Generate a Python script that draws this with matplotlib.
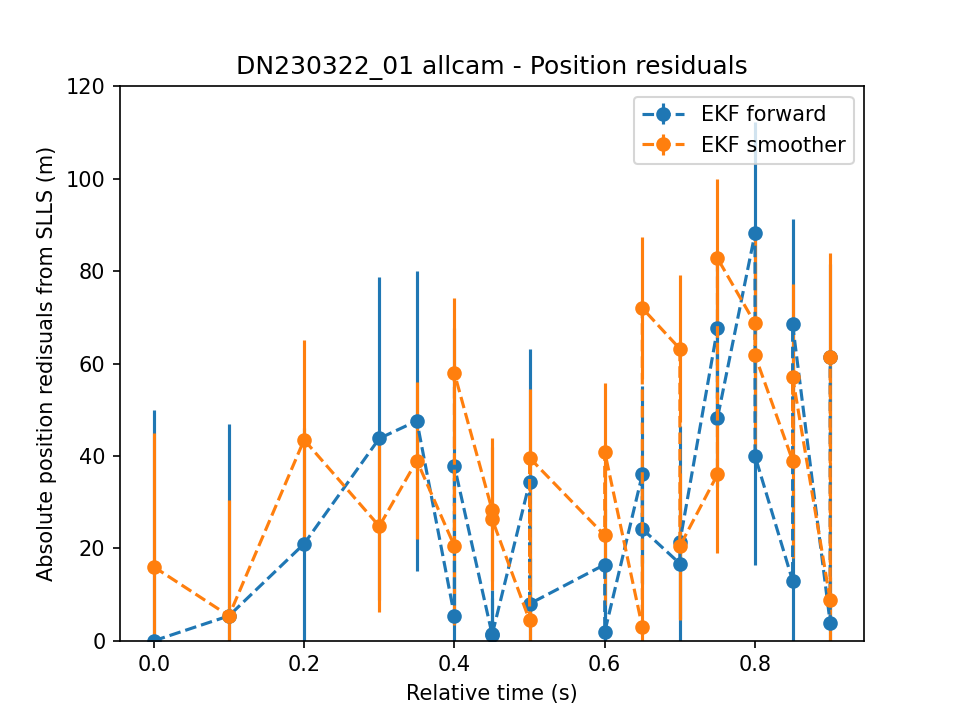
import matplotlib
matplotlib.use('Agg')
import matplotlib.pyplot as plt
import numpy as np

# relative time of each residual sample (s)
t = [0.0, 0.1, 0.2, 0.3, 0.35, 0.4, 0.4, 0.45, 0.45, 0.5, 0.5, 0.6, 0.6,
     0.65, 0.65, 0.7, 0.7, 0.75, 0.75, 0.8, 0.8, 0.85, 0.85, 0.9, 0.9]

# EKF forward residuals + 1 sigma
fwd_res = [0.0, 5.4, 21.0, 43.8, 47.6, 5.4, 37.8, 1.5, 1.2, 34.3, 8.0, 16.5, 1.9,
           36.0, 24.2, 16.7, 21.4, 67.6, 48.2, 88.2, 40.0, 13.0, 68.5, 3.9, 61.5]
fwd_err = [50.0, 41.5, 25.0, 35.0, 32.5, 12.0, 30.0, 9.6, 8.0, 28.9, 10.0, 12.0, 5.0,
           19.2, 12.0, 12.0, 25.0, 15.0, 15.0, 24.0, 23.5, 20.0, 22.9, 10.0, 20.0]

# EKF smoother residuals + 1 sigma
smo_res = [16.0, 5.4, 43.5, 24.8, 39.0, 20.5, 57.9, 28.4, 26.4, 4.4, 39.6, 22.8, 40.9,
           3.0, 72.0, 63.2, 20.5, 36.0, 82.8, 68.7, 61.8, 39.0, 57.1, 8.8, 61.5]
smo_err = [29.0, 25.0, 21.6, 18.5, 17.0, 17.0, 16.3, 15.4, 15.5, 20.0, 15.0, 15.0, 15.0,
           15.3, 15.4, 15.9, 15.9, 17.1, 17.2, 20.0, 20.0, 21.0, 20.1, 30.0, 22.5]

fig = plt.figure(figsize=(6.4, 4.8), dpi=150)
ax = fig.subplots()
ax.errorbar(t, fwd_res, yerr=fwd_err, fmt='o--', label='EKF forward')
ax.errorbar(t, smo_res, yerr=smo_err, fmt='o--', label='EKF smoother')
ax.set_ylim(0, 120)
ax.set_xlabel('Relative time (s)')
ax.set_ylabel('Absolute position redisuals from SLLS (m)')
ax.set_title('DN230322_01 allcam - Position residuals')
ax.legend(loc='upper right')
fig.savefig('out.png', dpi=150)
